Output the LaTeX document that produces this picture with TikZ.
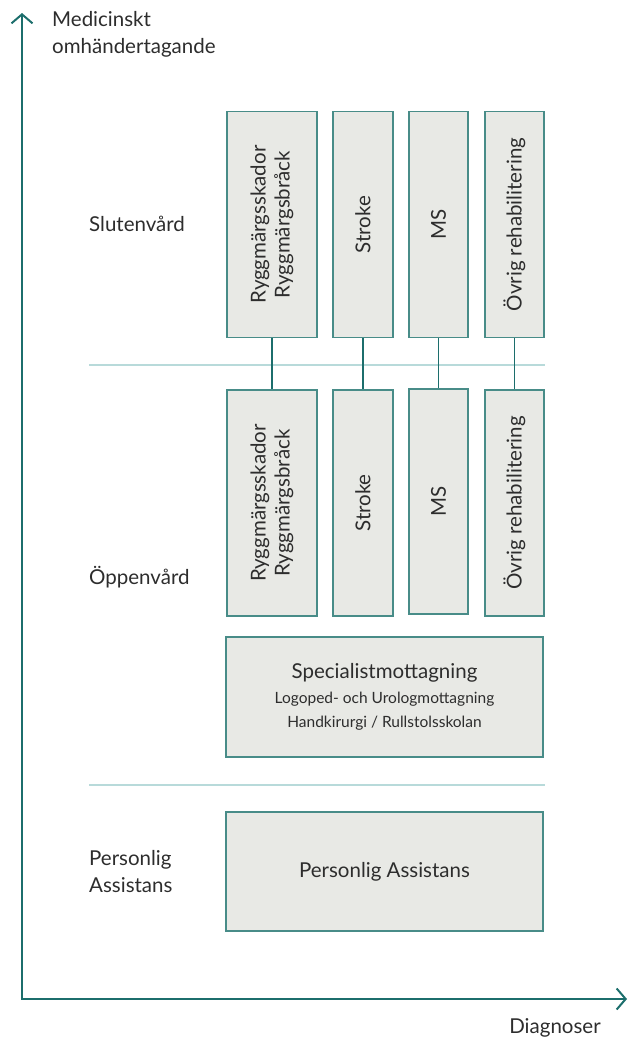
\documentclass[tikz,border=0pt]{standalone}
\usepackage{fontspec}
\setmainfont{Lato}
\usepackage{xcolor}
\usepackage{tikz}
\usetikzlibrary{arrows.meta, positioning, calc}
\definecolor{AxisTeal}{RGB}{28, 110, 108}
\definecolor{BoxEdge}{RGB}{72, 140, 136}
\definecolor{BoxFill}{RGB}{232, 233, 229}
\definecolor{SepLine}{RGB}{184, 218, 218}
\definecolor{TextGray}{RGB}{45, 45, 45}

\tikzset{
  carebox/.style={
    draw=BoxEdge, fill=BoxFill, line width=1.3pt,
    inner sep=0pt, align=center, text=TextGray,
    font=\fontsize{20.5}{24}\selectfont
  },
  vbox/.style={carebox, rotate=90, minimum width=226pt},
  lvl/.style={anchor=west, align=left, text=TextGray, inner sep=0pt,
    font=\fontsize{20.5}{27}\selectfont},
  link/.style={draw=AxisTeal, line width=1.2pt}
}

\begin{document}
\begin{tikzpicture}[x=1pt, y=-1pt]
  \useasboundingbox (0,0) rectangle (628,1039);

  % axes
  \coordinate (origin) at (22,999);
  \coordinate (ytip) at (22,13);
  \coordinate (xtip) at (627,999);
  \draw[AxisTeal, line width=2pt,
    {Straight Barb[length=9pt,width=21pt]}-{Straight Barb[length=9pt,width=21pt]}]
    (ytip) -- (origin) -- (xtip);
  \node[lvl] (ylabel) at (52,34) {Medicinskt\\omhändertagande};
  \node[text=TextGray, font=\fontsize{20.5}{24}\selectfont] (xlabel) at (555,1028) {Diagnoser};

  % separators
  \coordinate (sepA) at (89,365);
  \coordinate (sepB) at (545,365);
  \coordinate (sepC) at (89,785);
  \coordinate (sepD) at (545,785);
  \draw[SepLine, line width=1.5pt] (sepA) -- (sepB);
  \draw[SepLine, line width=1.5pt] (sepC) -- (sepD);

  % level labels
  \node[lvl] (sluten) at (89,224) {Slutenvård};
  \node[lvl] (oppen) at (89,577) {Öppenvård};
  \node[lvl] (assist) at (89,872) {Personlig\\Assistans};

  % slutenvård
  \node[vbox, minimum height=90pt] (s1) at (272,224.5) {Ryggmärgsskador\\Ryggmärgsbråck};
  \node[vbox, minimum height=60pt] (s2) at (363,224.5) {Stroke};
  \node[vbox, minimum height=59pt] (s3) at (438.5,224.5) {MS};
  \node[vbox, minimum height=59pt] (s4) at (514.5,224.5) {Övrig rehabilitering};

  % öppenvård
  \node[vbox, minimum height=90pt] (o1) at (272,503) {Ryggmärgsskador\\Ryggmärgsbråck};
  \node[vbox, minimum height=60pt] (o2) at (363,503) {Stroke};
  \node[vbox, minimum height=59pt, minimum width=225pt] (o3) at (438.5,501.5) {MS};
  \node[vbox, minimum height=59pt] (o4) at (514.5,503) {Övrig rehabilitering};

  \draw[link] (s1.west) -- (o1.east);
  \draw[link] (s2.west) -- (o2.east);
  \draw[link] (s3.west) -- (o3.east);
  \draw[link] (s4.west) -- (o4.east);

  \node[carebox, minimum width=317pt, minimum height=120pt] (spec) at (384.5,697) {
    Specialistmottagning\\[1pt]
    {\fontsize{15.5}{21}\selectfont Logoped- och Urologmottagning}\\
    {\fontsize{15.5}{21}\selectfont Handkirurgi / Rullstolsskolan}
  };

  \node[carebox, minimum width=317pt, minimum height=119pt] (pers) at (384.5,871.5) {Personlig Assistans};
\end{tikzpicture}
\end{document}
